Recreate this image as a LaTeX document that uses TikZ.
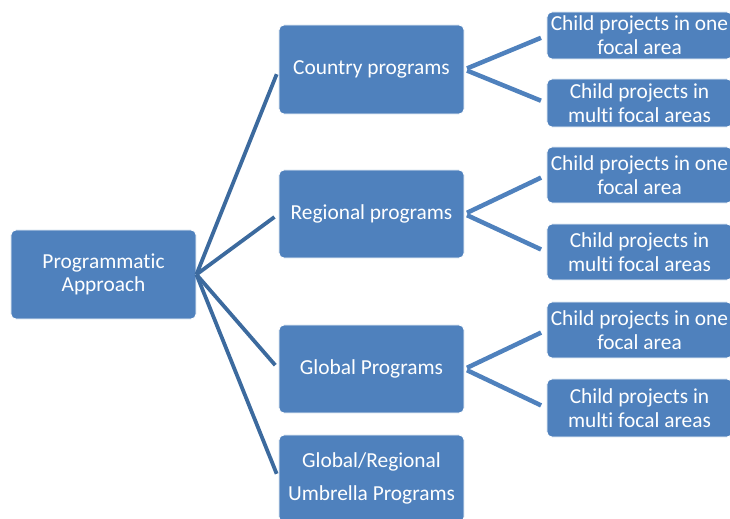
\documentclass[tikz,border=0pt]{standalone}
\usepackage{fontspec}
\setmainfont{Carlito}[Ligatures=NoCommon]
\definecolor{boxblue}{HTML}{4F81BD}
\definecolor{linkblue}{HTML}{3C6A9E}

\begin{document}
\begin{tikzpicture}[x=0.025cm, y=-0.025cm,
	box/.style={fill=boxblue, draw=white, line width=0.6pt, rounded corners=3.5pt, text=white, align=center,
		inner sep=0pt, minimum width=4.625cm, font=\fontsize{15.2}{17}\selectfont},
	trunk/.style={draw=linkblue, line width=2.7pt, shorten >=3.6pt},
	twig/.style={draw=boxblue, line width=3.2pt, shorten <=2pt, shorten >=4.3pt}]
	\useasboundingbox (0,0) rectangle (730,519);
	\clip (0,0) rectangle (730,519);
	% left column
	\node[box, minimum height=2.225cm, font=\fontsize{15.2}{16.4}\selectfont] (prog) at (103.5,274.5) {Programmatic\\Approach};
	% middle column
	\node[box, minimum height=2.225cm] (country) at (371.5,69.5) {Country programs};
	\node[box, minimum height=2.2cm] (regional) at (371.5,214) {Regional programs};
	\node[box, minimum height=2.2cm] (global) at (371.5,369) {Global Programs};
	\node[box, minimum height=2.175cm, font=\fontsize{15.2}{23.5}\selectfont] (umbrella) at (371.5,478.5) {Global/Regional\\Umbrella Programs};
	% right column
	\node[box, minimum height=1.175cm] (countryone) at (639.5,35.5) {Child projects in one\\focal area};
	\node[box, minimum height=1.2cm] (countrymulti) at (639.5,103) {Child projects in\\multi focal areas};
	\node[box, minimum height=1.4cm] (regionalone) at (639.5,175) {Child projects in one\\focal area};
	\node[box, minimum height=1.4cm] (regionalmulti) at (639.5,252) {Child projects in\\multi focal areas};
	\node[box, minimum height=1.4cm] (globalone) at (639.5,330) {Child projects in one\\focal area};
	\node[box, minimum height=1.45cm] (globalmulti) at (639.5,408) {Child projects in\\multi focal areas};
	% links
	\foreach \mid in {country,regional,global,umbrella}
		\draw[trunk] (prog.east) -- (\mid.west);
	\foreach \mid in {country,regional,global}{
		\draw[twig] (\mid.east) -- (\mid one.west);
		\draw[twig] (\mid.east) -- (\mid multi.west);
	}
\end{tikzpicture}
\end{document}
